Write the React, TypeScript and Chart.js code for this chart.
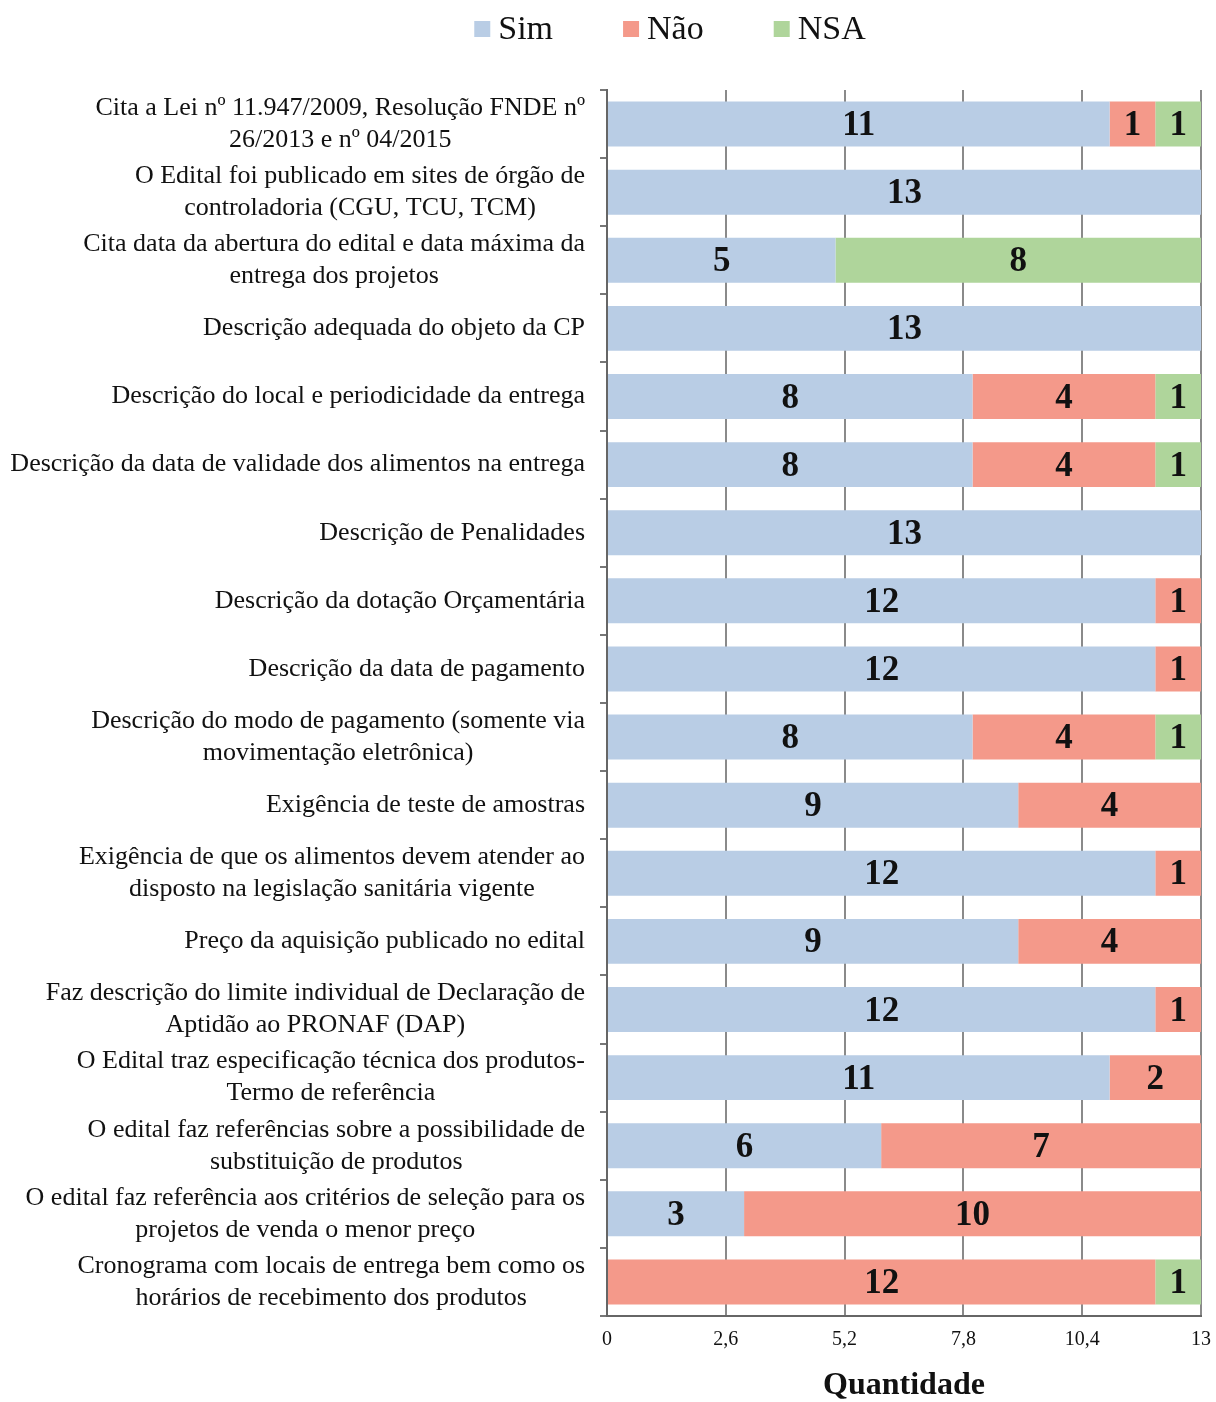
import React, { useEffect, useRef } from "react";
import { Chart, registerables } from "chart.js";
Chart.register(...registerables);

const categories: string[][] = [
  ["Cita a Lei nº 11.947/2009, Resolução FNDE nº", "26/2013 e nº 04/2015"],
  ["O Edital foi publicado em sites de órgão de", "controladoria (CGU, TCU, TCM)"],
  ["Cita data da abertura do edital e data máxima da", "entrega dos projetos"],
  ["Descrição adequada do objeto da CP"],
  ["Descrição do local e periodicidade da entrega"],
  ["Descrição da data de validade dos alimentos na entrega"],
  ["Descrição de Penalidades"],
  ["Descrição da dotação Orçamentária"],
  ["Descrição da data de pagamento"],
  ["Descrição do modo de pagamento (somente via", "movimentação eletrônica)"],
  ["Exigência de teste de amostras"],
  ["Exigência de que os alimentos devem atender ao", "disposto na legislação sanitária vigente"],
  ["Preço da aquisição publicado no edital"],
  ["Faz descrição do limite individual de Declaração de", "Aptidão ao PRONAF (DAP)"],
  ["O Edital traz especificação técnica dos produtos-", "Termo de referência"],
  ["O edital faz referências sobre a possibilidade de", "substituição de produtos"],
  ["O edital faz referência aos critérios de seleção para os", "projetos de venda o menor preço"],
  ["Cronograma com locais de entrega bem como os", "horários de recebimento dos produtos"],
];

const simValues = [11, 13, 5, 13, 8, 8, 13, 12, 12, 8, 9, 12, 9, 12, 11, 6, 3, 0];
const naoValues = [1, 0, 0, 0, 4, 4, 0, 1, 1, 4, 4, 1, 4, 1, 2, 7, 10, 12];
const nsaValues = [1, 0, 8, 0, 1, 1, 0, 0, 0, 1, 0, 0, 0, 0, 0, 0, 0, 1];

const seriesNames = ["Sim", "Não", "NSA"];
const seriesColors = ["#B9CDE5", "#F4998A", "#AFD59B"];

const xMin = 0;
const xMax = 13;
const xStep = 2.6;
const xTitle = "Quantidade";

const SERIF = "'Liberation Serif', 'Times New Roman', serif";

export default function App() {
  const ref = useRef<HTMLCanvasElement | null>(null);

  useEffect(() => {
    if (!ref.current) return;

    const bgPlugin = {
      id: "bg",
      beforeDraw(chart: any) {
        const { ctx, width, height } = chart;
        ctx.save();
        ctx.fillStyle = "#ffffff";
        ctx.fillRect(0, 0, width, height);
        ctx.restore();
      },
    };

    const yLabelPlugin = {
      id: "yLabels",
      afterDraw(chart: any) {
        const { ctx } = chart;
        const scale = chart.scales.y;
        ctx.save();
        ctx.font = `26px ${SERIF}`;
        ctx.fillStyle = "#111";
        ctx.textAlign = "center";
        ctx.textBaseline = "middle";
        const lh = 32;
        const right = scale.right - 22;
        categories.forEach((lines, i) => {
          const y = scale.getPixelForValue(i);
          const w = Math.max(...lines.map((l) => ctx.measureText(l).width));
          const cx = right - w / 2;
          const y0 = y - ((lines.length - 1) * lh) / 2;
          lines.forEach((l, j) => ctx.fillText(l, cx, y0 + j * lh));
        });
        ctx.restore();
      },
    };

    const dataLabelPlugin = {
      id: "dataLabels",
      afterDatasetsDraw(chart: any) {
        const { ctx } = chart;
        ctx.save();
        ctx.font = `bold 35px ${SERIF}`;
        ctx.fillStyle = "#111";
        ctx.textAlign = "center";
        ctx.textBaseline = "middle";
        chart.data.datasets.forEach((ds: any, di: number) => {
          const meta = chart.getDatasetMeta(di);
          meta.data.forEach((el: any, i: number) => {
            const v = ds.data[i];
            if (!v) return;
            const p = el.getProps(["x", "y", "base"], true);
            ctx.fillText(String(v), (p.x + p.base) / 2, p.y + 2);
          });
        });
        ctx.restore();
      },
    };

    const legendPlugin = {
      id: "topLegend",
      afterDraw(chart: any) {
        const { ctx } = chart;
        ctx.save();
        ctx.font = `34px ${SERIF}`;
        const box = 16;
        const gapText = 8;
        const gapItem = 70;
        const widths = seriesNames.map((n) => box + gapText + ctx.measureText(n).width);
        const total = widths.reduce((a, b) => a + b, 0) + gapItem * (seriesNames.length - 1);
        let x = 670 - total / 2;
        const cy = 29;
        ctx.textBaseline = "middle";
        ctx.textAlign = "left";
        seriesNames.forEach((n, i) => {
          ctx.fillStyle = seriesColors[i];
          ctx.fillRect(x, cy - 8, box, box);
          ctx.fillStyle = "#111";
          ctx.fillText(n, x + box + gapText, cy + 1);
          x += widths[i] + gapItem;
        });
        ctx.restore();
      },
    };

    const values = [simValues, naoValues, nsaValues];

    const chart = new Chart(ref.current, {
      type: "bar",
      data: {
        labels: categories.map((c) => c.join(" ")),
        datasets: seriesNames.map((name, i) => ({
          label: name,
          data: values[i],
          backgroundColor: seriesColors[i],
          borderWidth: 0,
          barPercentage: 0.66,
          categoryPercentage: 1,
        })),
      },
      options: {
        indexAxis: "y",
        animation: false,
        responsive: false,
        maintainAspectRatio: false,
        layout: { padding: { top: 90, right: 15, bottom: 0, left: 0 } },
        plugins: {
          legend: { display: false },
          tooltip: { enabled: false },
        },
        scales: {
          x: {
            stacked: true,
            min: xMin,
            max: xMax,
            ticks: {
              stepSize: xStep,
              padding: 12,
              color: "#111",
              font: { family: SERIF, size: 20 },
              callback: (v: any) => {
                const n = Number(v);
                const s = Number.isInteger(Math.round(n * 10) / 10) ? String(Math.round(n)) : n.toFixed(1);
                return s.replace(".", ",");
              },
            },
            grid: { color: "#8a8a8a", lineWidth: 2, drawTicks: false },
            border: { display: true, color: "#666", width: 2 },
            title: {
              display: true,
              text: xTitle,
              color: "#111",
              font: { family: SERIF, size: 32, weight: "bold", lineHeight: 1 },
              padding: { top: 0, bottom: 0 },
            },
            afterFit: (scale: any) => {
              scale.height = 86;
              scale.paddingRight = 0;
              scale.paddingLeft = 0;
            },
          },
          y: {
            stacked: true,
            ticks: { display: false },
            grid: { drawOnChartArea: false, drawTicks: true, tickLength: 7, color: "#777", lineWidth: 2 },
            border: { display: true, color: "#666", width: 2 },
            afterFit: (scale: any) => {
              scale.width = 607;
            },
          },
        },
      },
      plugins: [bgPlugin, yLabelPlugin, dataLabelPlugin, legendPlugin],
    } as any);

    return () => chart.destroy();
  }, []);

  return (
    <div style={{ position: "absolute", left: 0, top: 0, width: 1216, height: 1402 }}>
      <canvas ref={ref} width={1216} height={1402} style={{ width: 1216, height: 1402, display: "block" }} />
    </div>
  );
}
